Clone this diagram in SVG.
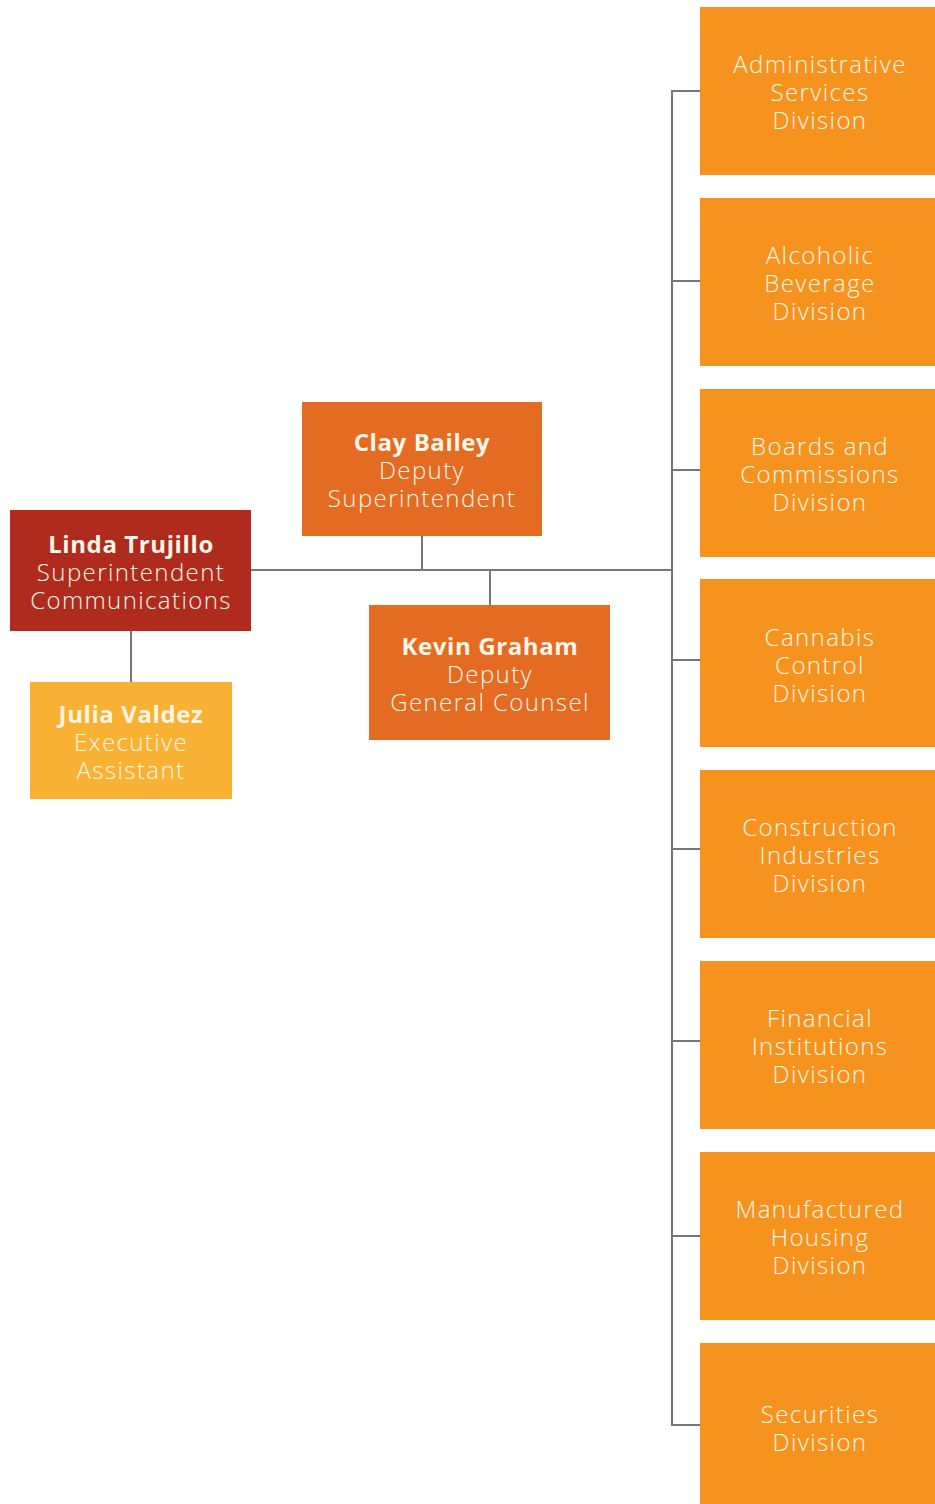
<svg xmlns="http://www.w3.org/2000/svg" width="935" height="1504" viewBox="0 0 935 1504">
<style>
.t{font-family:"Open Sans","Lato","Liberation Sans",sans-serif;font-size:24px;fill:#fff6ea;text-anchor:middle;font-weight:300;letter-spacing:1.4px}
.b{font-weight:700;letter-spacing:0.6px}
.div{fill:#f6931f}
.dep{fill:#e36b22}
.ln{stroke:#777;stroke-width:2;fill:none}
</style>
<rect width="935" height="1504" fill="#fff"/>
<g id="connectors">
<path class="ln" d="M251 570 H672"/>
<path class="ln" d="M422 536 V570"/>
<path class="ln" d="M490 570 V605"/>
<path class="ln" d="M131 631 V682"/>
<path class="ln" d="M703 91 H672 V1425 H703"/>
<path class="ln" d="M672 281 H703 M672 470 H703 M672 660 H703 M672 849 H703 M672 1041 H703 M672 1236 H703"/>
</g>
<g id="linda"><rect x="10" y="510" width="241" height="121" fill="#ae2b1d"/>
<text class="t" x="131" y="553"><tspan class="b">Linda Trujillo</tspan><tspan x="131" dy="28">Superintendent</tspan><tspan x="131" dy="28">Communications</tspan></text></g>
<g id="julia"><rect x="30" y="682" width="202" height="117" fill="#f9b133"/>
<text class="t" x="131" y="723"><tspan class="b">Julia Valdez</tspan><tspan x="131" dy="28">Executive</tspan><tspan x="131" dy="28">Assistant</tspan></text></g>
<g id="clay"><rect class="dep" x="302" y="402" width="240" height="134"/>
<text class="t" x="422" y="451"><tspan class="b">Clay Bailey</tspan><tspan x="422" dy="28">Deputy</tspan><tspan x="422" dy="28">Superintendent</tspan></text></g>
<g id="kevin"><rect class="dep" x="369" y="605" width="241" height="135"/>
<text class="t" x="490" y="655"><tspan class="b">Kevin Graham</tspan><tspan x="490" dy="28">Deputy</tspan><tspan x="490" dy="28">General Counsel</tspan></text></g>
<g id="admin"><rect class="div" x="700" y="7" width="235" height="168"/>
<text class="t" x="820" y="73">Administrative<tspan x="820" dy="28">Services</tspan><tspan x="820" dy="28">Division</tspan></text></g>
<g id="alcohol"><rect class="div" x="700" y="198" width="235" height="168"/>
<text class="t" x="820" y="264">Alcoholic<tspan x="820" dy="28">Beverage</tspan><tspan x="820" dy="28">Division</tspan></text></g>
<g id="boards"><rect class="div" x="700" y="389" width="235" height="168"/>
<text class="t" x="820" y="455">Boards and<tspan x="820" dy="28">Commissions</tspan><tspan x="820" dy="28">Division</tspan></text></g>
<g id="cannabis"><rect class="div" x="700" y="579" width="235" height="168"/>
<text class="t" x="820" y="646">Cannabis<tspan x="820" dy="28">Control</tspan><tspan x="820" dy="28">Division</tspan></text></g>
<g id="construction"><rect class="div" x="700" y="770" width="235" height="168"/>
<text class="t" x="820" y="836">Construction<tspan x="820" dy="28">Industries</tspan><tspan x="820" dy="28">Division</tspan></text></g>
<g id="financial"><rect class="div" x="700" y="961" width="235" height="168"/>
<text class="t" x="820" y="1027">Financial<tspan x="820" dy="28">Institutions</tspan><tspan x="820" dy="28">Division</tspan></text></g>
<g id="housing"><rect class="div" x="700" y="1152" width="235" height="168"/>
<text class="t" x="820" y="1218">Manufactured<tspan x="820" dy="28">Housing</tspan><tspan x="820" dy="28">Division</tspan></text></g>
<g id="securities"><rect class="div" x="700" y="1343" width="235" height="161"/>
<text class="t" x="820" y="1423">Securities<tspan x="820" dy="28">Division</tspan></text></g>
</svg>
